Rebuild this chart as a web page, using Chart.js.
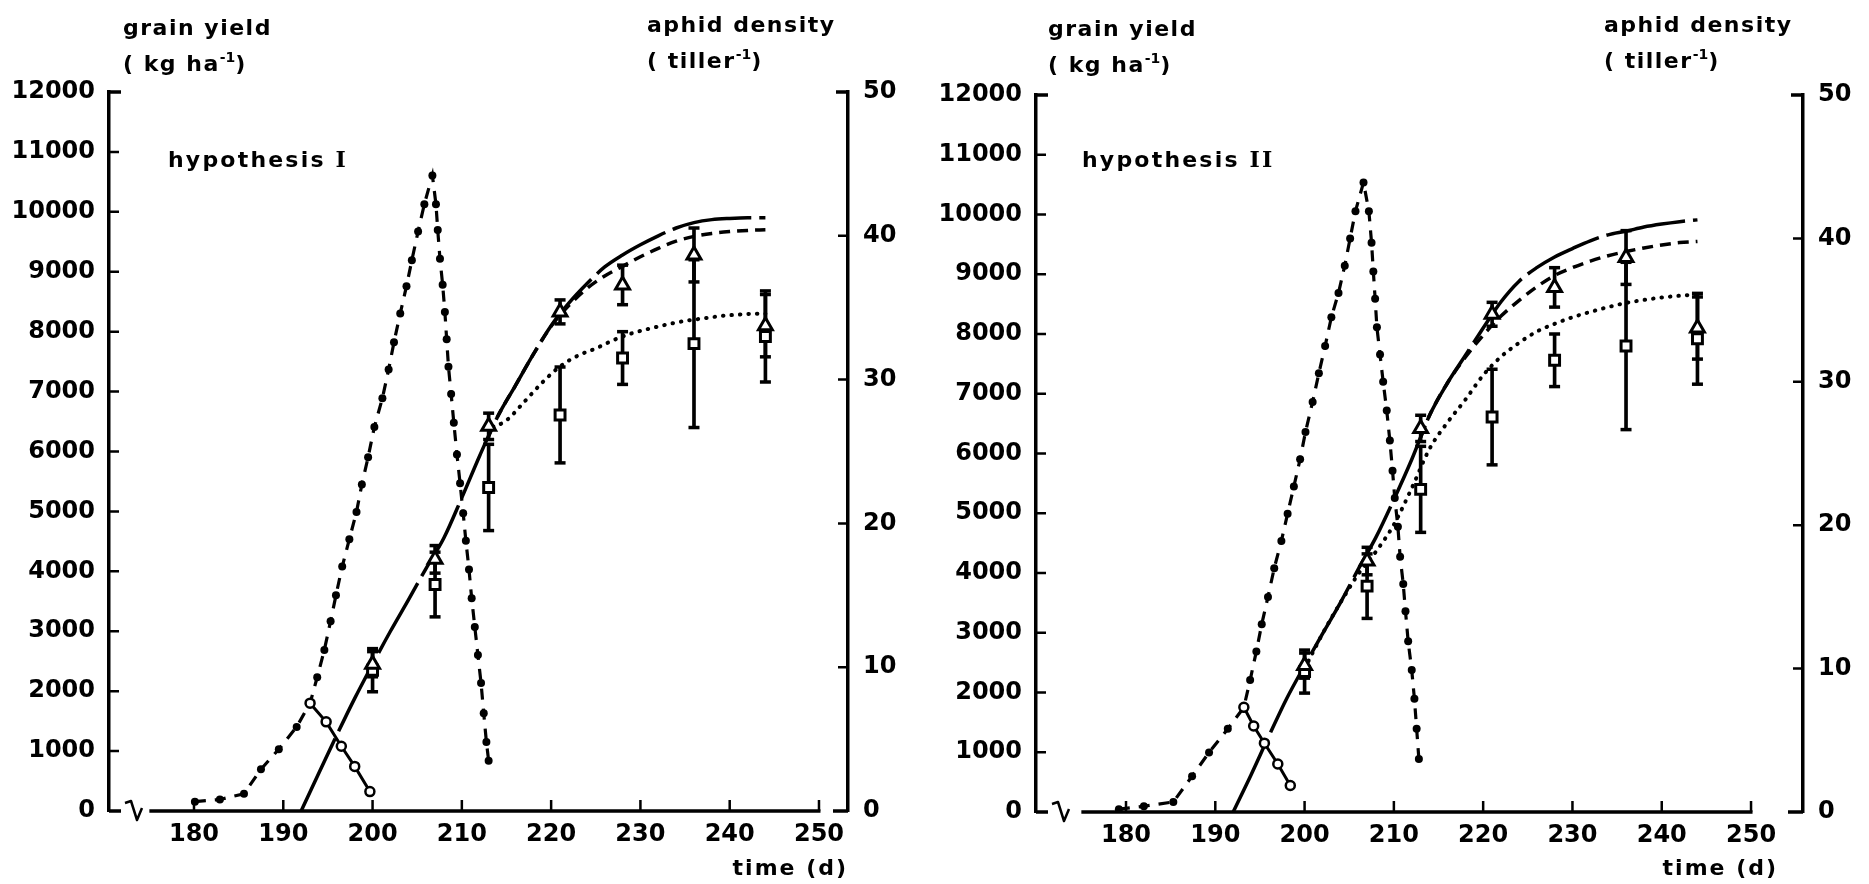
<!DOCTYPE html>
<html><head><meta charset="utf-8">
<script src="https://cdn.jsdelivr.net/npm/chart.js@4.4.1/dist/chart.umd.min.js"></script>
<style>
html,body{margin:0;padding:0;background:#fff;}
#wrap{position:relative;width:1869px;height:884px;overflow:hidden;background:#fff;}
canvas{position:absolute;top:0;}
.t{position:absolute;font-family:'DejaVu Sans';font-weight:bold;font-size:22px;line-height:22px;color:#000;white-space:nowrap;letter-spacing:1.5px;}
.t sup{font-size:14px;line-height:0;vertical-align:9px;letter-spacing:0;}
.rn{font-family:'DejaVu Serif';}
</style></head>
<body><div id="wrap">
<canvas id="c1" width="934" height="884" style="left:0px"></canvas>
<canvas id="c2" width="935" height="884" style="left:934px"></canvas>
<div class="t" style="left:123px;top:17px">grain yield</div>
<div class="t" style="left:123px;top:53px">( kg ha<sup>-1</sup>)</div>
<div class="t" style="left:647px;top:14px">aphid density</div>
<div class="t" style="left:647px;top:50px">( tiller<sup>-1</sup>)</div>
<div class="t" style="left:168px;top:148px;letter-spacing:2.2px">hypothesis <span class="rn">I</span></div>
<div class="t" style="right:1021px;top:857px;letter-spacing:2px">time (d)</div>
<div class="t" style="left:1048px;top:18px">grain yield</div>
<div class="t" style="left:1048px;top:54px">( kg ha<sup>-1</sup>)</div>
<div class="t" style="left:1604px;top:14px">aphid density</div>
<div class="t" style="left:1604px;top:50px">( tiller<sup>-1</sup>)</div>
<div class="t" style="left:1082px;top:148px;letter-spacing:2.2px">hypothesis <span class="rn">II</span></div>
<div class="t" style="right:91px;top:857px;letter-spacing:2px">time (d)</div>
</div>
<script>
// ---- tick labels ----
const tickDays = [180, 190, 200, 210, 220, 230, 240, 250];
const yieldTicks = [0, 1000, 2000, 3000, 4000, 5000, 6000, 7000, 8000, 9000, 10000, 11000, 12000];
const densityTicks = [0, 10, 20, 30, 40, 50];

// ---- observations (same in both panels) ----
const obsDays = [200, 207, 213, 221, 228, 236, 244];
const triMean = [2450, 4200, 6420, 8330, 8780, 9280, 8100];
const triErr  = [210, 230, 220, 200, 330, 450, 520];
const sqMean  = [2350, 3780, 5400, 6610, 7560, 7800, 7920];
const sqErr   = [360, 540, 720, 800, 440, 1400, 760];

// ---- hypothesis I ----
const h1AphidDays = [180.1,182.9,185.6,187.5,189.5,191.5,193.0,193.8,194.6,195.3,195.9,196.6,197.4,198.2,198.8,199.5,200.2,201.1,201.8,202.4,203.1,203.8,204.4,205.1,205.8,206.7,207.1,207.3,207.55,207.85,208.1,208.3,208.5,208.8,209.1,209.45,209.8,210.15,210.45,210.8,211.1,211.45,211.8,212.15,212.45,212.75,213.0];
const h1AphidDens = [0.65,0.8,1.2,2.9,4.3,5.85,7.5,9.3,11.2,13.2,15.0,17.0,18.9,20.8,22.7,24.6,26.7,28.7,30.7,32.6,34.6,36.5,38.3,40.3,42.2,44.2,42.2,40.4,38.4,36.6,34.7,32.8,30.9,29.0,27.0,24.8,22.8,20.7,18.8,16.8,14.8,12.8,10.85,8.9,6.8,4.8,3.5];
const h1DeclineDays = [193.0, 194.8, 196.5, 198.0, 199.7];
const h1DeclineDens = [7.5, 6.2, 4.5, 3.1, 1.35];
const h1SolidDays = [192,194,196,198,200,202,204,206,208,210,212,214,216,218,220,222,224,226,228,230,232,234,236,238,240,242,244];
const h1SolidYield = [0,640,1270,1880,2450,3000,3520,4050,4560,5230,5930,6580,7100,7620,8100,8480,8800,9080,9280,9450,9600,9730,9820,9870,9890,9900,9900];
const h1DashDays = [213,214,216,218,220,222,224,226,228,230,232,234,236,238,240,242,244];
const h1DashYield = [6255,6580,7100,7620,8090,8440,8720,8930,9090,9250,9390,9510,9590,9640,9670,9690,9700];
const h1DotDays = [213.5,215,217,219,221,223,225,227,229,231,233,235,237,239,241,243,244];
const h1DotYield = [6400,6520,6830,7150,7420,7600,7720,7860,7970,8050,8120,8180,8220,8260,8285,8300,8300];

// ---- hypothesis II ----
const h2AphidDays = [179.2,182.0,185.3,187.4,189.3,191.4,193.2,193.9,194.6,195.2,195.9,196.6,197.4,198.1,198.8,199.5,200.1,200.9,201.6,202.3,203.0,203.8,204.5,205.1,205.7,206.6,207.2,207.5,207.7,207.9,208.1,208.45,208.8,209.2,209.55,209.85,210.1,210.45,210.7,211.05,211.3,211.6,212.0,212.3,212.55,212.8];
const h2AphidDens = [0.2,0.4,0.7,2.5,4.15,5.8,7.3,9.2,11.2,13.1,15.0,17.0,18.9,20.8,22.7,24.6,26.5,28.6,30.6,32.5,34.5,36.2,38.1,40.0,41.9,43.9,41.9,39.7,37.7,35.8,33.8,31.9,30.0,28.0,25.9,23.8,21.9,19.9,17.8,15.9,14.0,11.9,9.9,7.9,5.8,3.7];
const h2DeclineDays = [193.2, 194.3, 195.5, 197.0, 198.4];
const h2DeclineDens = [7.3, 6.0, 4.8, 3.35, 1.85];
const h2SolidDays = [192,194,196,198,200,202,204,206,208,210,212,214,216,218,220,222,224,226,228,230,232,234,236,238,240,242,244];
const h2SolidYield = [0,620,1270,1900,2450,2980,3500,4060,4600,5230,5900,6640,7180,7640,8100,8540,8880,9110,9290,9430,9560,9660,9720,9790,9840,9880,9910];
const h2DashDays = [213,214,216,218,220,222,224,226,228,230,232,234,236,238,240,242,244];
const h2DashYield = [6270,6640,7180,7610,7980,8300,8560,8790,8980,9110,9220,9310,9380,9440,9490,9530,9550];
const h2DotDays = [200,202,204,206,208,210,212,214,216,218,220,222,224,226,228,230,232,234,236,238,240,242,244];
const h2DotYield = [2400,2980,3500,3980,4360,4810,5420,6080,6520,6900,7310,7620,7850,8040,8170,8280,8370,8450,8520,8570,8610,8640,8660];

const pts = (xs, ys) => xs.map((x, i) => ({x: x, y: ys[i]}));
const tickFont = {family: 'DejaVu Sans', weight: 'bold', size: 24};

const axisDecor = {
  id: 'axisDecor',
  afterDraw(chart, args, opts) {
    const {ctx, chartArea: a, scales: {x, y, y2}} = chart;
    const y0 = y.getPixelForValue(yieldTicks[0]);
    const yTop = y.getPixelForValue(yieldTicks[yieldTicks.length - 1]);
    ctx.save();
    ctx.strokeStyle = '#000';
    ctx.lineWidth = 3.5;
    ctx.lineCap = 'butt';
    ctx.beginPath();
    ctx.moveTo(x.getPixelForValue(opts.axisStart), y0);
    ctx.lineTo(x.getPixelForValue(tickDays[tickDays.length - 1]) + 1.5, y0);
    ctx.moveTo(a.left, y0); ctx.lineTo(a.left + 12, y0);
    ctx.moveTo(a.left, yTop); ctx.lineTo(a.left + 12, yTop);
    ctx.moveTo(a.right - 12, yTop); ctx.lineTo(a.right, yTop);
    ctx.moveTo(a.right - 15, y0); ctx.lineTo(a.right, y0);
    ctx.stroke();
    ctx.lineWidth = 2.5;
    ctx.beginPath();
    tickDays.forEach(d => { const px = x.getPixelForValue(d); ctx.moveTo(px, y0); ctx.lineTo(px, y0 - 11); });
    yieldTicks.slice(1, -1).forEach(v => { const py = y.getPixelForValue(v); ctx.moveTo(a.left, py); ctx.lineTo(a.left + 10, py); });
    densityTicks.slice(1, -1).forEach(v => { const py = y2.getPixelForValue(v); ctx.moveTo(a.right, py); ctx.lineTo(a.right - 10, py); });
    ctx.stroke();
    ctx.lineWidth = 2.5;
    ctx.lineJoin = 'round';
    ctx.beginPath();
    ctx.moveTo(a.left + 16, y0 - 8);
    ctx.lineTo(a.left + 22, y0 - 10);
    ctx.lineTo(a.left + 28, y0 + 9);
    ctx.lineTo(a.left + 33, y0 - 3);
    ctx.stroke();
    ctx.restore();
  }
};

function makeChart(id, P, L) {
  const caps = [];
  obsDays.forEach((d, i) => {
    caps.push({x: d, y: triMean[i] - triErr[i]}, {x: d, y: triMean[i] + triErr[i]});
    caps.push({x: d, y: sqMean[i] - sqErr[i]}, {x: d, y: sqMean[i] + sqErr[i]});
  });
  return new Chart(document.getElementById(id), {
    type: 'scatter',
    data: {
      datasets: [
        {type: 'bar', label: 'tri err', yAxisID: 'y', grouped: false, barThickness: 3, backgroundColor: '#000', borderWidth: 0, order: 5,
         data: obsDays.map((d, i) => ({x: d, y: [triMean[i] - triErr[i], triMean[i] + triErr[i]]}))},
        {type: 'bar', label: 'sq err', yAxisID: 'y', grouped: false, barThickness: 3, backgroundColor: '#000', borderWidth: 0, order: 5,
         data: obsDays.map((d, i) => ({x: d, y: [sqMean[i] - sqErr[i], sqMean[i] + sqErr[i]]}))},
        {type: 'scatter', label: 'caps', yAxisID: 'y', data: caps, pointStyle: 'line', pointRadius: 5.5, borderWidth: 3.5, borderColor: '#000', order: 4},
        {type: 'scatter', label: 'observed (squares)', yAxisID: 'y', data: pts(obsDays, sqMean), pointStyle: 'rect', pointRadius: 7,
         backgroundColor: '#fff', borderColor: '#000', borderWidth: 3, order: 2},
        {type: 'scatter', label: 'observed (triangles)', yAxisID: 'y', data: pts(obsDays, triMean), pointStyle: 'triangle', pointRadius: 8,
         backgroundColor: '#fff', borderColor: '#000', borderWidth: 3, order: 1},
        {type: 'line', label: 'yield simulated 1', yAxisID: 'y', data: pts(P.solidDays, P.solidYield), borderColor: '#000', borderWidth: 3.5,
         borderDash: [80, 8], pointRadius: 0, cubicInterpolationMode: 'monotone', fill: false, order: 8},
        {type: 'line', label: 'yield simulated 2', yAxisID: 'y', data: pts(P.dashDays, P.dashYield), borderColor: '#000', borderWidth: 3.5,
         borderDash: [11, 7], pointRadius: 0, cubicInterpolationMode: 'monotone', fill: false, order: 8},
        {type: 'line', label: 'yield simulated 3', yAxisID: 'y', data: pts(P.dotDays, P.dotYield), borderColor: '#000', borderWidth: 4,
         borderDash: [0.5, 8], borderCapStyle: 'round', pointRadius: 0, cubicInterpolationMode: 'monotone', fill: false, order: 8},
        {type: 'line', label: 'aphid density', yAxisID: 'y2', data: pts(P.aphidDays, P.aphidDens), borderColor: '#000', borderWidth: 3.2,
         borderDash: [11, 9], tension: 0, pointRadius: 4, pointBackgroundColor: '#000', pointBorderWidth: 0, fill: false, order: 7},
        {type: 'line', label: 'aphid decline', yAxisID: 'y2', data: pts(P.declineDays, P.declineDens), borderColor: '#000', borderWidth: 3,
         tension: 0, pointRadius: 4.5, pointBackgroundColor: '#fff', pointBorderColor: '#000', pointBorderWidth: 2.5, fill: false, order: 6}
      ]
    },
    options: {
      responsive: false,
      devicePixelRatio: 1,
      animation: false,
      events: [],
      layout: {padding: {top: L.top, left: 0, right: 0, bottom: 0}},
      plugins: {legend: {display: false}, tooltip: {enabled: false}, axisDecor: {axisStart: 175}},
      scales: {
        x: {type: 'linear', position: 'bottom', min: L.xMin, max: L.xMax, offset: false,
            afterBuildTicks: s => { s.ticks = tickDays.map(v => ({value: v})); },
            afterFit: s => { s.height = L.xHeight; },
            grid: {display: false, drawTicks: false}, border: {display: false},
            ticks: {font: tickFont, color: '#000', padding: 9, maxRotation: 0, autoSkip: false, callback: v => String(v)}},
        y: {type: 'linear', position: 'left', min: yieldTicks[0], max: yieldTicks[yieldTicks.length - 1],
            afterBuildTicks: s => { s.ticks = yieldTicks.map(v => ({value: v})); },
            afterFit: s => { s.width = L.yWidth; },
            grid: {display: false, drawTicks: false}, border: {display: true, width: 3.5, color: '#000'},
            ticks: {font: tickFont, color: '#000', padding: 14, autoSkip: false, callback: v => String(v)}},
        y2: {type: 'linear', position: 'right', min: densityTicks[0], max: densityTicks[densityTicks.length - 1],
            afterBuildTicks: s => { s.ticks = densityTicks.map(v => ({value: v})); },
            afterFit: s => { s.width = L.y2Width; },
            grid: {display: false, drawTicks: false}, border: {display: true, width: 3.5, color: '#000'},
            ticks: {font: tickFont, color: '#000', padding: 15, autoSkip: false, callback: v => String(v)}}
      }
    },
    plugins: [axisDecor]
  });
}

makeChart('c1', {
  aphidDays: h1AphidDays, aphidDens: h1AphidDens, declineDays: h1DeclineDays, declineDens: h1DeclineDens,
  solidDays: h1SolidDays, solidYield: h1SolidYield, dashDays: h1DashDays, dashYield: h1DashYield, dotDays: h1DotDays, dotYield: h1DotYield
}, {top: 92, xHeight: 73, yWidth: 109, y2Width: 86, xMin: 170.48, xMax: 253.25});

makeChart('c2', {
  aphidDays: h2AphidDays, aphidDens: h2AphidDens, declineDays: h2DeclineDays, declineDens: h2DeclineDens,
  solidDays: h2SolidDays, solidYield: h2SolidYield, dashDays: h2DashDays, dashYield: h2DashYield, dotDays: h2DotDays, dotYield: h2DotYield
}, {top: 95, xHeight: 72, yWidth: 102, y2Width: 66, xMin: 169.92, xMax: 255.82});
</script>
</body></html>
